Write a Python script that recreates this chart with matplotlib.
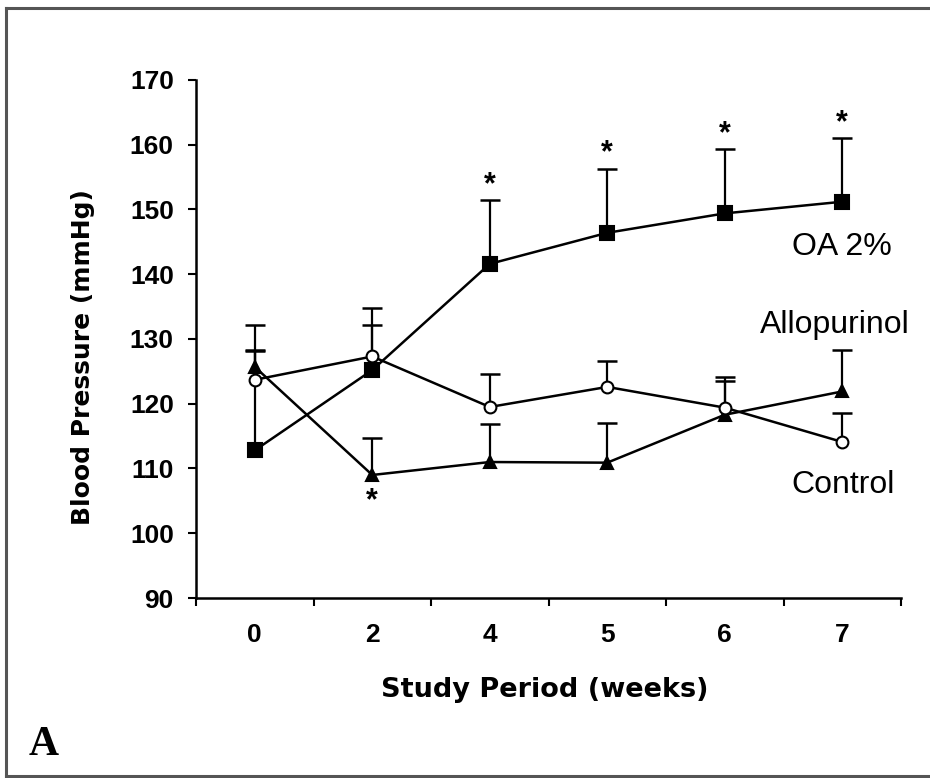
import matplotlib
matplotlib.use("Agg")
import matplotlib.pyplot as plt
from matplotlib.lines import Line2D
import numpy as np

# Study weeks (categorical axis)
weeks = ["0", "2", "4", "5", "6", "7"]

# Mean blood pressure (mmHg) and upper error (SD) per group
oa_mean = [112.8, 125.2, 141.6, 146.4, 149.4, 151.2]
oa_sd = [15.5, 7.0, 9.8, 9.9, 9.9, 9.8]

allo_mean = [125.7, 109.0, 111.0, 110.9, 118.3, 121.9]
allo_sd = [6.5, 5.7, 5.9, 6.1, 5.2, 6.4]

ctrl_mean = [123.7, 127.3, 119.5, 122.6, 119.4, 114.1]
ctrl_sd = [4.5, 7.5, 5.1, 4.0, 4.7, 4.5]

# Significance flags (asterisks)
oa_sig = [False, False, True, True, True, True]
allo_sig = [False, True, False, False, False, False]

SANS = ["Liberation Sans", "DejaVu Sans"]
WIDE = ["DejaVu Sans"]

fig = plt.figure(figsize=(9.3, 7.78), dpi=100)
ax = fig.add_axes([196 / 930, 180 / 778, 705 / 930, 518 / 778])

x = np.arange(len(weeks))


def draw_series(mean, sd, marker, face, ms):
    mean = np.asarray(mean)
    sd = np.asarray(sd)
    top = mean + sd
    ax.vlines(x, mean, top, color="black", lw=1.6, zorder=2)
    ax.plot(x, top, ls="none", marker="_", ms=15, mew=1.8,
            color="black", zorder=2)
    ax.plot(x, mean, color="black", lw=1.8, marker=marker, ms=ms,
            mfc=face, mec="black", mew=1.5, zorder=3)
    return top


oa_top = draw_series(oa_mean, oa_sd, "s", "black", 10)
allo_top = draw_series(allo_mean, allo_sd, "^", "black", 8)
ctrl_top = draw_series(ctrl_mean, ctrl_sd, "o", "white", 8.5)

# Asterisks above OA error bars, below Allopurinol point
for xi, t, s in zip(x, oa_top, oa_sig):
    if s:
        ax.annotate("*", (xi, t), xytext=(0, 0), textcoords="offset points",
                    ha="center", va="bottom", fontsize=22, fontweight="bold",
                    family=SANS)
for xi, m, s in zip(x, allo_mean, allo_sig):
    if s:
        ax.annotate("*", (xi, m), xytext=(0, -8), textcoords="offset points",
                    ha="center", va="top", fontsize=22, fontweight="bold",
                    family=SANS)

# Series labels
ax.text(5.0, 143.0, "OA 2%", ha="center", va="baseline", fontsize=23, family=SANS)
ax.text(4.94, 130.9, "Allopurinol", ha="center", va="baseline", fontsize=23, family=SANS)
ax.text(5.01, 106.2, "Control", ha="center", va="baseline", fontsize=23, family=SANS)

# Axes styling
ax.set_xlim(-0.5, len(weeks) - 0.5)
ax.set_ylim(90, 170)
ax.set_yticks(np.arange(90, 171, 10))
ax.set_xticks(np.arange(-0.5, len(weeks), 1.0))
ax.set_xticklabels([])
ax.set_xticks(x, minor=True)
ax.set_xticklabels(weeks, minor=True)
ax.tick_params(axis="x", which="minor", length=0, pad=18)
ax.tick_params(axis="x", which="major", length=6, width=1.5, direction="out")
ax.tick_params(axis="y", length=6, width=1.5, direction="out", pad=10)
for lab in ax.get_yticklabels() + ax.get_xticklabels(minor=True):
    lab.set_family(SANS)
    lab.set_fontweight("bold")
    lab.set_fontsize(19)

for side in ("top", "right"):
    ax.spines[side].set_visible(False)
for side in ("left", "bottom"):
    ax.spines[side].set_linewidth(1.8)

ax.set_xlabel("Study Period (weeks)", fontsize=19.5, fontweight="bold",
              family=WIDE)
ax.xaxis.set_label_coords(0.495, -0.178)
ax.xaxis.label.set_va("center")
ax.set_ylabel("Blood Pressure (mmHg)", fontsize=18, fontweight="bold",
              family=WIDE)
ax.yaxis.set_label_coords(-0.16, 0.465)
ax.yaxis.label.set_va("center")

# Panel letter
fig.text(44 / 930, 1 - 745 / 778, "A", ha="center", va="center",
         fontsize=30, fontweight="bold", family=["Liberation Serif", "DejaVu Serif"])

# Figure frame
frame_kw = dict(color="#555555", lw=2.2, transform=fig.transFigure)
fig.add_artist(Line2D([6 / 930, 6 / 930], [1 - 8 / 778, 1 - 776 / 778], **frame_kw))
fig.add_artist(Line2D([6 / 930, 1.0], [1 - 8 / 778, 1 - 8 / 778], **frame_kw))
fig.add_artist(Line2D([6 / 930, 1.0], [1 - 776 / 778, 1 - 776 / 778], **frame_kw))

fig.savefig("out.png", dpi=100)
